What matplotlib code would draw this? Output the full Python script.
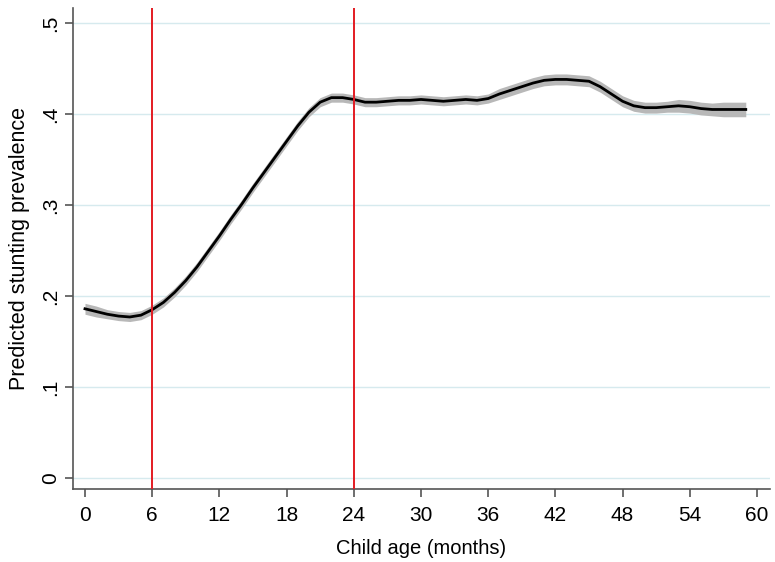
import matplotlib.pyplot as plt
import numpy as np

plt.rcParams['font.family'] = ['Liberation Sans', 'DejaVu Sans']

# Predicted stunting prevalence by child age (months)
age = np.arange(0, 60)
prev = [0.186, 0.183, 0.180, 0.178, 0.177, 0.179, 0.185, 0.193, 0.204, 0.217,
        0.232, 0.249, 0.266, 0.284, 0.301, 0.319, 0.336, 0.353, 0.370, 0.387,
        0.402, 0.413, 0.418, 0.418, 0.416, 0.413, 0.413, 0.414, 0.415, 0.415,
        0.416, 0.415, 0.414, 0.415, 0.416, 0.415, 0.417, 0.422, 0.426, 0.430,
        0.434, 0.437, 0.438, 0.438, 0.437, 0.436, 0.430, 0.422, 0.414, 0.409,
        0.407, 0.407, 0.408, 0.409, 0.408, 0.406, 0.405, 0.405, 0.405, 0.405]
# half-width of the confidence band
ci = [0.006, 0.006, 0.005, 0.005, 0.005, 0.005, 0.005, 0.005, 0.005, 0.005,
      0.005, 0.005, 0.005, 0.005, 0.005, 0.005, 0.005, 0.005, 0.005, 0.005,
      0.005, 0.005, 0.005, 0.005, 0.005, 0.005, 0.005, 0.005, 0.005, 0.005,
      0.005, 0.005, 0.005, 0.005, 0.005, 0.005, 0.005, 0.006, 0.006, 0.006,
      0.006, 0.006, 0.006, 0.006, 0.006, 0.006, 0.006, 0.006, 0.006, 0.006,
      0.006, 0.006, 0.006, 0.007, 0.007, 0.007, 0.007, 0.008, 0.008, 0.008]
cutoffs = [6, 24]
xticks = list(range(0, 61, 6))
yticks = [0, 0.1, 0.2, 0.3, 0.4, 0.5]
ytick_labels = ['0', '.1', '.2', '.3', '.4', '.5']

prev = np.array(prev)
ci = np.array(ci)

fig = plt.figure(figsize=(7.75, 5.62), dpi=100)
ax = fig.add_axes([0.0942, 0.1299, 0.8993, 0.8559])

for y in yticks:
    ax.axhline(y, color='#d6eaee', lw=1, zorder=0)

ax.fill_between(age, prev - ci, prev + ci, color='#b8b8b8', lw=0, zorder=2)
ax.plot(age, prev, color='black', lw=2, zorder=3)

for c in cutoffs:
    ax.axvline(c, color='#e31b23', lw=1.4, zorder=4)

ax.set_xlim(-1.07, 61.16)
ax.set_ylim(-0.012, 0.5165)
ax.set_xticks(xticks)
ax.set_yticks(yticks)
ax.set_yticklabels(ytick_labels, rotation=90, va='center')

for s in ['top', 'right']:
    ax.spines[s].set_visible(False)
for s in ['left', 'bottom']:
    ax.spines[s].set_color('#555555')
    ax.spines[s].set_linewidth(1.2)
ax.tick_params(colors='#555555', labelcolor='black', labelsize=15, length=6, width=1.2)
ax.tick_params(axis='x', pad=6)

ax.set_xlabel('Child age (months)', fontsize=14.5, labelpad=10)
ax.set_ylabel('Predicted stunting prevalence', fontsize=15.5, labelpad=8)

fig.savefig('out.png', dpi=100)
